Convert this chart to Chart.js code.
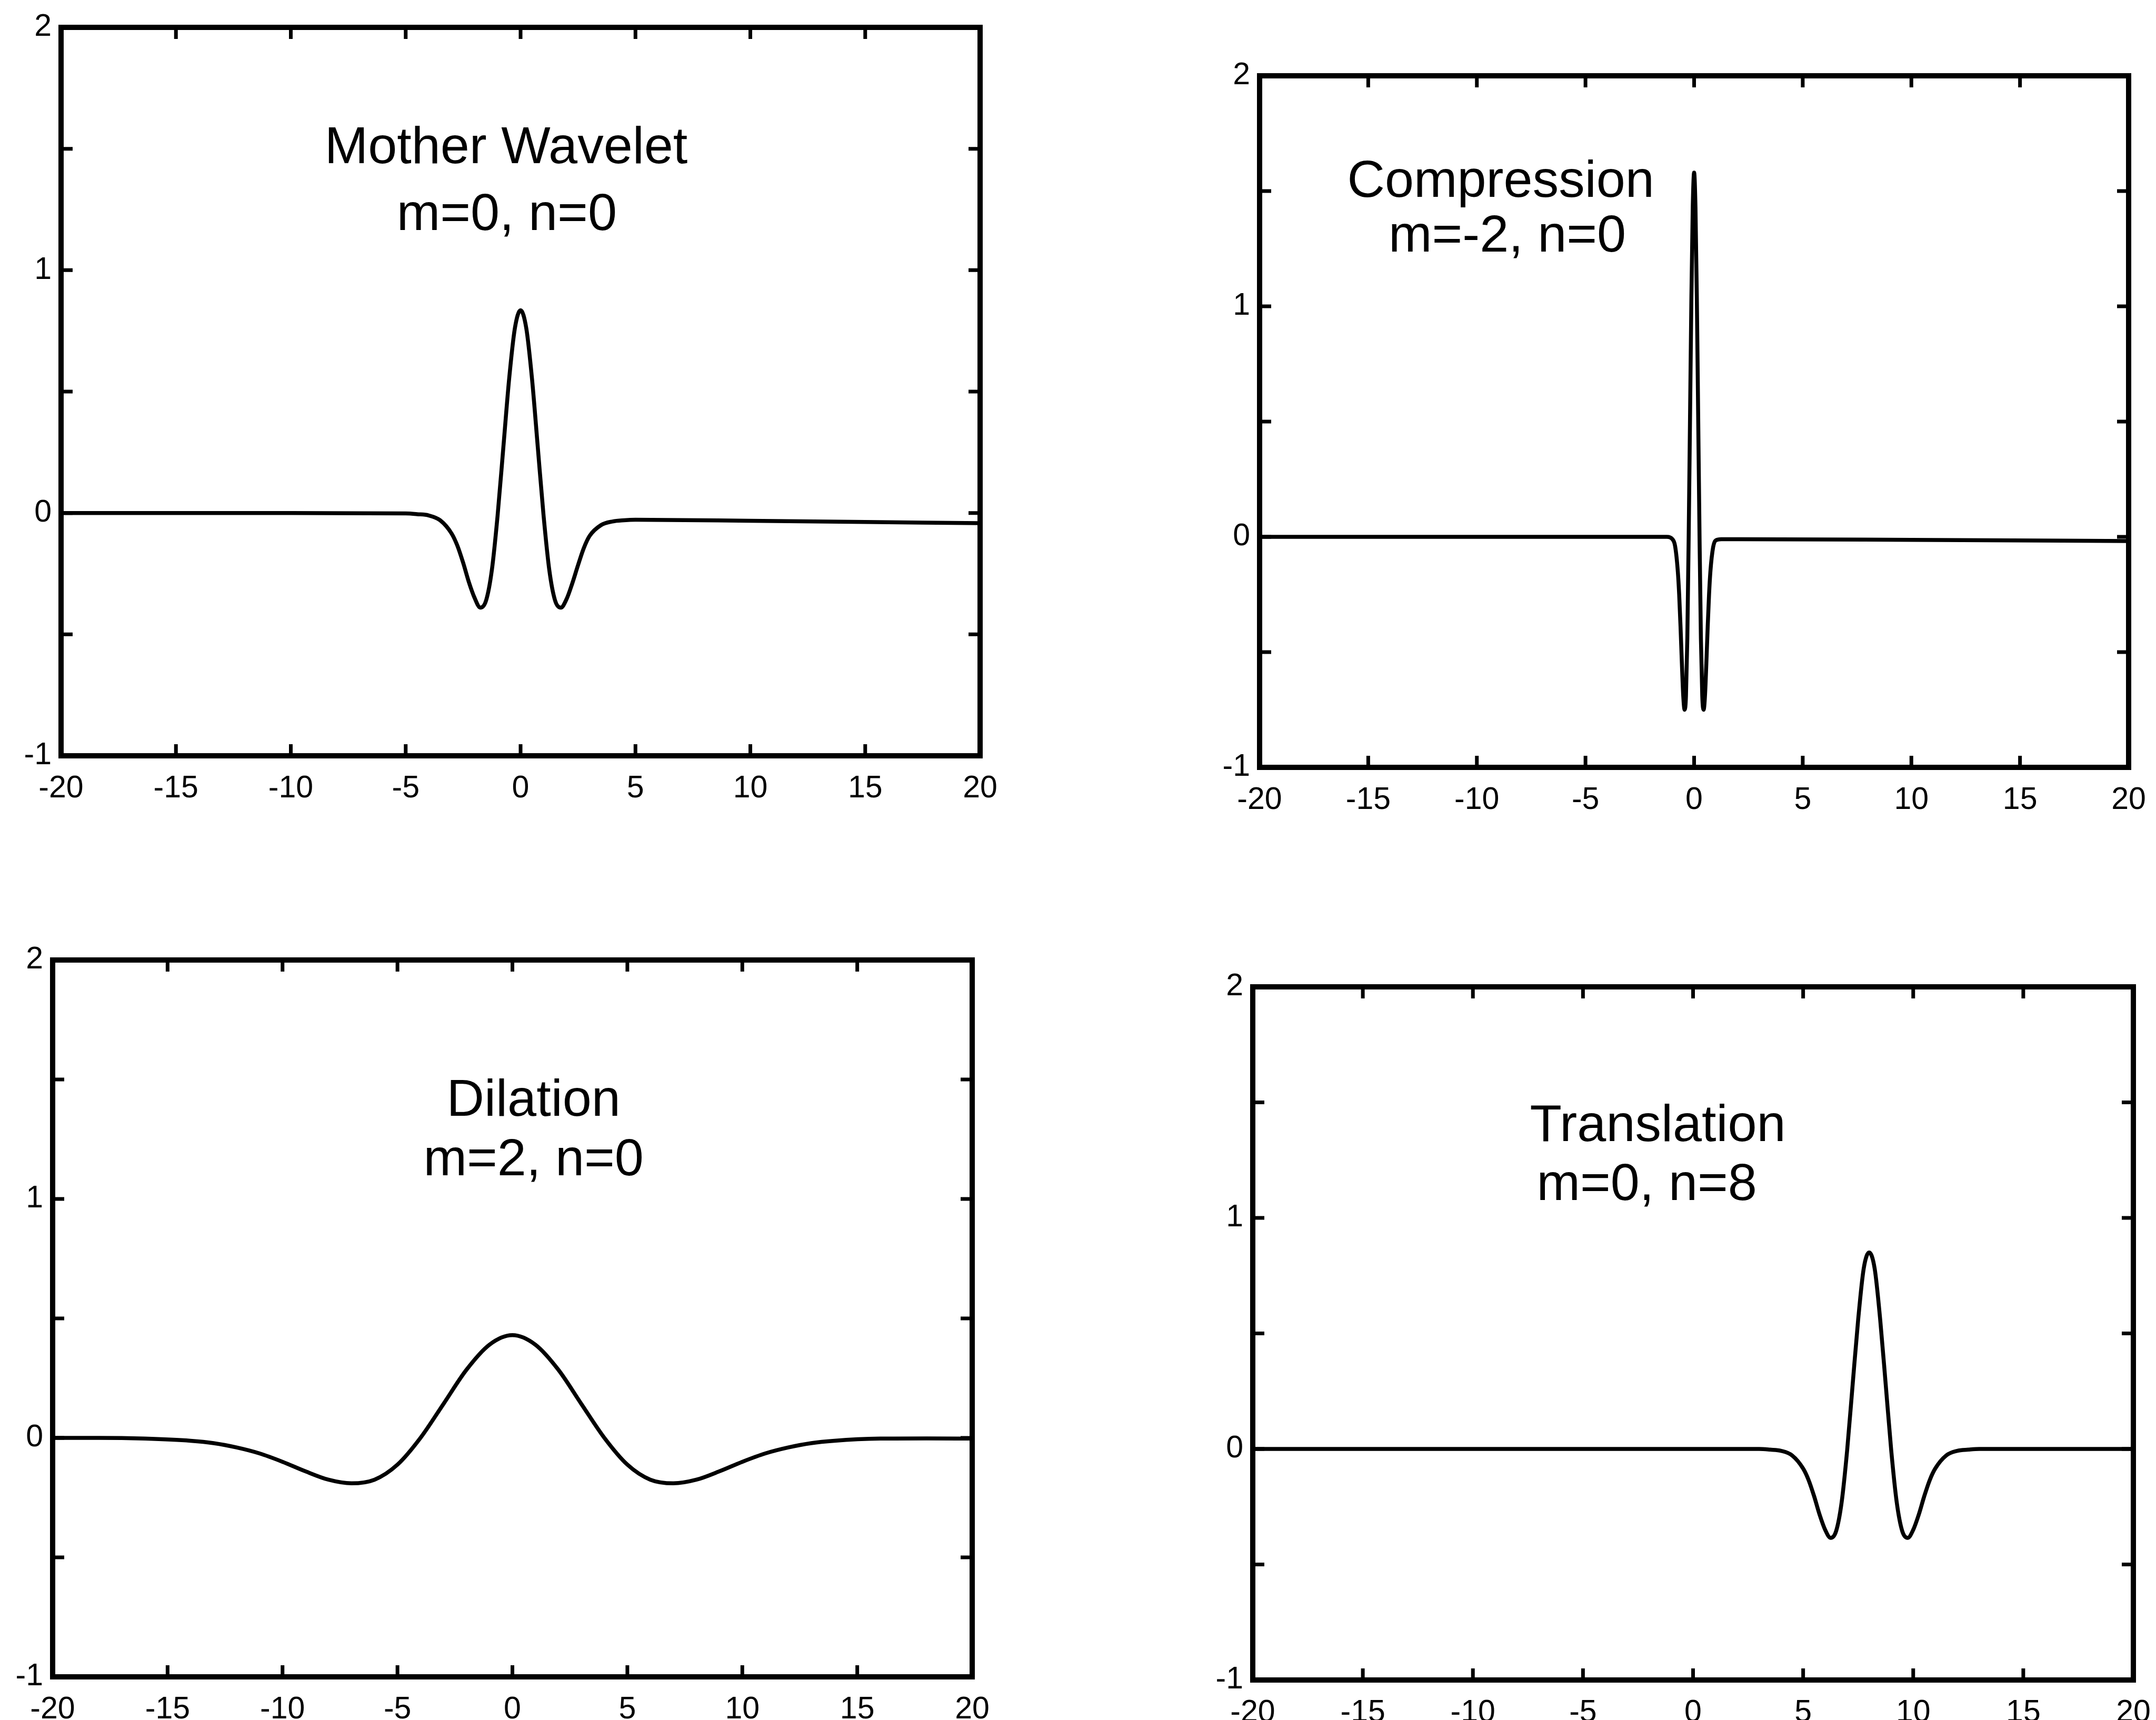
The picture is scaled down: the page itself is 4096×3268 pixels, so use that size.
<!DOCTYPE html>
<html>
<head>
<meta charset="utf-8">
<title>Mexican hat wavelet: dilation, compression, translation</title>
<script src="https://cdn.jsdelivr.net/npm/chart.js@4.4.0/dist/chart.umd.min.js"></script>
<style>
  html, body { margin: 0; padding: 0; background: #fff; }
  body { width: 4096px; height: 3268px; position: relative; overflow: hidden; }
  canvas { position: absolute; }
</style>
</head>
<body>
<canvas id="mother"></canvas>
<canvas id="compress"></canvas>
<canvas id="dilate"></canvas>
<canvas id="translate"></canvas>
<script>
// axis ticks shared by all four panels
const xTickLabels = [-20, -15, -10, -5, 0, 5, 10, 15, 20];
const yTickLabels = [-1, 0, 1, 2];
const yTickMarks = [-1, -0.5, 0, 0.5, 1, 1.5, 2];

// m=0, n=0
const motherX = [-20, -10, -5, -4.5, -4, -3.5, -3, -2.75, -2.5, -2.25, -2, -1.75, -1.5, -1.25, -1, -0.75, -0.5, -0.25, 0,
  0.25, 0.5, 0.75, 1, 1.25, 1.5, 1.75, 2, 2.25, 2.5, 2.75, 3, 3.5, 4, 4.5, 5, 10, 15, 20];
const motherY = [0, 0, -0.002, -0.005, -0.01, -0.03, -0.085, -0.135, -0.205, -0.285, -0.35, -0.39, -0.36, -0.235, -0.01, 0.27, 0.55, 0.76, 0.835,
  0.76, 0.55, 0.27, -0.01, -0.235, -0.36, -0.39, -0.355, -0.29, -0.215, -0.145, -0.095, -0.05, -0.035, -0.03, -0.028, -0.032, -0.037, -0.042];

// m=-2, n=0
const compressX = [-20, -10, -2, -1.25, -1, -0.875, -0.75, -0.6875, -0.625, -0.5625, -0.5, -0.4375, -0.375, -0.3125, -0.25, -0.1875, -0.125, -0.0625, 0,
  0.0625, 0.125, 0.1875, 0.25, 0.3125, 0.375, 0.4375, 0.5, 0.5625, 0.625, 0.6875, 0.75, 0.875, 1, 1.25, 2, 10, 20];
const compressY = [0, 0, 0, 0, -0.01, -0.04, -0.15, -0.25, -0.39, -0.55, -0.69, -0.75, -0.69, -0.44, 0, 0.52, 1.04, 1.43, 1.58,
  1.43, 1.04, 0.52, 0, -0.44, -0.69, -0.75, -0.69, -0.55, -0.39, -0.25, -0.15, -0.045, -0.015, -0.01, -0.01, -0.013, -0.018];

// m=2, n=0
const dilateX = [-20, -18, -16, -14, -13, -12, -11, -10, -9, -8, -7, -6, -5, -4, -3, -2, -1, 0,
  1, 2, 3, 4, 5, 6, 7, 8, 9, 10, 11, 12, 13, 14, 16, 18, 20];
const dilateY = [0, 0, -0.003, -0.012, -0.022, -0.04, -0.065, -0.1, -0.14, -0.175, -0.19, -0.175, -0.112, 0, 0.142, 0.285, 0.39, 0.43,
  0.39, 0.285, 0.142, 0, -0.112, -0.175, -0.19, -0.175, -0.14, -0.1, -0.065, -0.04, -0.022, -0.012, -0.003, -0.002, -0.003];

// m=0, n=8
const translateX = [-20, -10, 0, 3, 3.5, 4, 4.5, 5, 5.25, 5.5, 5.75, 6, 6.25, 6.5, 6.75, 7, 7.25, 7.5, 7.75, 8,
  8.25, 8.5, 8.75, 9, 9.25, 9.5, 9.75, 10, 10.25, 10.5, 10.75, 11, 11.5, 12, 12.5, 13, 15, 20];
const translateY = [0, 0, 0, 0, -0.003, -0.008, -0.028, -0.085, -0.135, -0.205, -0.285, -0.35, -0.385, -0.355, -0.23, -0.005, 0.28, 0.56, 0.78, 0.85,
  0.78, 0.56, 0.28, -0.005, -0.23, -0.355, -0.385, -0.35, -0.285, -0.205, -0.135, -0.085, -0.028, -0.008, -0.003, 0, 0, 0];

const panelTitles = [
  ['Mother Wavelet', 'm=0, n=0'],
  ['Compression', 'm=-2, n=0'],
  ['Dilation', 'm=2, n=0'],
  ['Translation', 'm=0, n=8']
];

const FONT = '"Liberation Sans", Arial, Helvetica, sans-serif';
Chart.defaults.font.family = FONT;
Chart.defaults.color = '#000';

// space around the plot box, inside each canvas
const PAD_L = 110, PAD_T = 60, PAD_R = 60, PAD_B = 110;
const FRAME_W = 10, TICK_W = 7, TICK_LEN = 22, LINE_W = 7.5;
const TITLE_SIZE = 99, TICK_SIZE = 59;

// plot boxes [left, top, right, bottom] and title anchors in data units
const panels = [
  { id: 'mother', box: [116, 52, 1862, 1436], xs: motherX, ys: motherY, title: panelTitles[0], at: [[-0.63, 1.44], [-0.6, 1.165]] },
  { id: 'compress', box: [2393, 144, 4044, 1458], xs: compressX, ys: compressY, title: panelTitles[1], at: [[-8.9, 1.476], [-8.6, 1.237]] },
  { id: 'dilate', box: [100, 1824, 1847, 3186], xs: dilateX, ys: dilateY, title: panelTitles[2], at: [[0.92, 1.347], [0.92, 1.1]] },
  { id: 'translate', box: [2380, 1875, 4053, 3192], xs: translateX, ys: translateY, title: panelTitles[3], at: [[-1.6, 1.333], [-2.1, 1.077]] }
];

// box outline with inward tick marks on all four sides
const framePlugin = {
  id: 'frame',
  afterDraw(chart) {
    const { ctx, chartArea: a, scales: { x, y } } = chart;
    ctx.save();
    ctx.strokeStyle = '#000';
    ctx.lineWidth = TICK_W;
    ctx.beginPath();
    x.ticks.forEach(t => {
      const px = x.getPixelForValue(t.value);
      ctx.moveTo(px, a.bottom); ctx.lineTo(px, a.bottom - TICK_LEN);
      ctx.moveTo(px, a.top); ctx.lineTo(px, a.top + TICK_LEN);
    });
    y.ticks.forEach(t => {
      const py = y.getPixelForValue(t.value);
      ctx.moveTo(a.left, py); ctx.lineTo(a.left + TICK_LEN, py);
      ctx.moveTo(a.right, py); ctx.lineTo(a.right - TICK_LEN, py);
    });
    ctx.stroke();
    ctx.lineWidth = FRAME_W;
    ctx.lineJoin = 'miter';
    ctx.strokeRect(a.left, a.top, a.width, a.height);
    ctx.restore();
  }
};

// two-line caption placed in data coordinates
const captionPlugin = {
  id: 'caption',
  afterDraw(chart, args, opts) {
    const { ctx, scales: { x, y } } = chart;
    ctx.save();
    ctx.fillStyle = '#000';
    ctx.font = TITLE_SIZE + 'px ' + FONT;
    ctx.textAlign = 'center';
    ctx.textBaseline = 'alphabetic';
    opts.lines.forEach((txt, i) => {
      const [vx, vy] = opts.at[i];
      ctx.fillText(txt, x.getPixelForValue(vx), y.getPixelForValue(vy));
    });
    ctx.restore();
  }
};

panels.forEach(p => {
  const [l, t, r, b] = p.box;
  const cv = document.getElementById(p.id);
  cv.width = r - l + PAD_L + PAD_R;
  cv.height = b - t + PAD_T + PAD_B;
  cv.style.left = (l - PAD_L) + 'px';
  cv.style.top = (t - PAD_T) + 'px';

  new Chart(cv, {
    type: 'line',
    data: {
      datasets: [{
        data: p.xs.map((v, i) => ({ x: v, y: p.ys[i] })),
        borderColor: '#000',
        borderWidth: LINE_W,
        pointRadius: 0,
        cubicInterpolationMode: 'monotone',
        fill: false
      }]
    },
    options: {
      responsive: false,
      animation: false,
      devicePixelRatio: 1,
      layout: { padding: { left: 0, top: PAD_T, right: PAD_R, bottom: 0 } },
      plugins: {
        legend: { display: false },
        tooltip: { enabled: false },
        caption: { lines: p.title, at: p.at }
      },
      scales: {
        x: {
          type: 'linear',
          min: -20,
          max: 20,
          afterBuildTicks: s => { s.ticks = xTickLabels.map(v => ({ value: v })); },
          afterFit: s => { s.height = PAD_B; },
          grid: { display: false },
          border: { display: false },
          ticks: {
            autoSkip: false,
            maxRotation: 0,
            padding: 19,
            font: { size: TICK_SIZE },
            callback: v => String(v)
          }
        },
        y: {
          type: 'linear',
          min: -1,
          max: 2,
          afterBuildTicks: s => { s.ticks = yTickMarks.map(v => ({ value: v })); },
          afterFit: s => { s.width = PAD_L; },
          grid: { display: false },
          border: { display: false },
          ticks: {
            autoSkip: false,
            padding: 10,
            font: { size: TICK_SIZE },
            callback: v => (yTickLabels.includes(v) ? String(v) : '')
          }
        }
      }
    },
    plugins: [framePlugin, captionPlugin]
  });
});
</script>
</body>
</html>
